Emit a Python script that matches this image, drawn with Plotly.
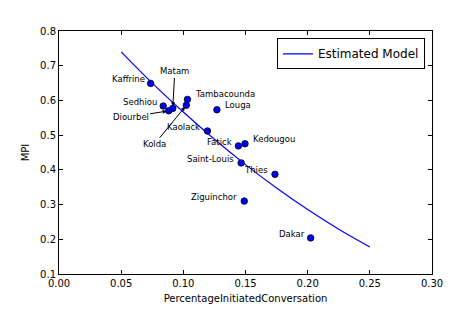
import plotly.graph_objects as go

# Data
regions = ["Kaffrine", "Sedhiou", "Diourbel", "Matam", "Tambacounda", "Kolda", "Louga",
           "Kaolack", "Fatick", "Kedougou", "Saint-Louis", "Thies", "Ziguinchor", "Dakar"]
pct_initiated = [0.0737, 0.0838, 0.0882, 0.0915, 0.1033, 0.1024, 0.1270,
                 0.1194, 0.1443, 0.1496, 0.1465, 0.1737, 0.1490, 0.2024]
mpi = [0.649, 0.584, 0.570, 0.577, 0.603, 0.586, 0.573,
       0.512, 0.469, 0.475, 0.420, 0.387, 0.310, 0.204]

model_x = [0.05, 0.075, 0.10, 0.125, 0.15, 0.175, 0.20, 0.225, 0.25]
model_y = [0.740, 0.650, 0.5665, 0.488, 0.415, 0.3475, 0.2855, 0.229, 0.178]

x_ticks = [0.00, 0.05, 0.10, 0.15, 0.20, 0.25, 0.30]
y_ticks = [0.1, 0.2, 0.3, 0.4, 0.5, 0.6, 0.7, 0.8]

# label placement: (xanchor, xshift, yshift) for plain labels; arrows for others
plain_labels = {
    "Kaffrine": ("right", -4, 4),
    "Sedhiou": ("right", -4, 4),
    "Tambacounda": ("left", 6, 5),
    "Louga": ("left", 6, 5),
    "Kaolack": ("right", -5, 4),
    "Fatick": ("right", -4, 4),
    "Kedougou": ("left", 6, 5),
    "Saint-Louis": ("right", -5, 4),
    "Thies": ("right", -5, 4),
    "Ziguinchor": ("right", -5, 4),
    "Dakar": ("right", -4, 4),
}
arrow_labels = {
    "Matam": (2, -37),
    "Diourbel": (-38, 6),
    "Kolda": (-32, 39),
}

fig = go.Figure()
fig.add_trace(go.Scatter(
    x=model_x, y=model_y, mode="lines", line=dict(color="#0000ff", width=1.2, shape="spline"),
    name="Estimated Model"))
fig.add_trace(go.Scatter(
    x=pct_initiated, y=mpi, mode="markers", showlegend=False,
    marker=dict(color="#0000ff", size=6.5, line=dict(color="black", width=0.8))))

font_lbl = dict(family="DejaVu Sans", size=8.5, color="black")
for name, xv, yv in zip(regions, pct_initiated, mpi):
    if name in plain_labels:
        xa, xs, ys = plain_labels[name]
        fig.add_annotation(x=xv, y=yv, text=name, showarrow=False, xanchor=xa,
                           yanchor="middle", xshift=xs, yshift=ys, font=font_lbl)
    else:
        ax, ay = arrow_labels[name]
        fig.add_annotation(x=xv, y=yv, text=name, showarrow=True, ax=ax, ay=ay,
                           arrowhead=2, arrowsize=0.8, arrowwidth=1, arrowcolor="black",
                           standoff=2, font=font_lbl)

axis_common = dict(showline=True, linecolor="black", linewidth=1, mirror="allticks",
                   ticks="inside", ticklen=4, tickcolor="black", showgrid=False,
                   zeroline=False, tickfont=dict(family="DejaVu Sans", size=10, color="black"))

fig.update_xaxes(range=[0, 0.30], tickvals=x_ticks, ticktext=[f"{v:.2f}" for v in x_ticks],
                 title=dict(text="PercentageInitiatedConversation",
                            font=dict(family="DejaVu Sans", size=10, color="black"), standoff=6),
                 **axis_common)
fig.update_yaxes(range=[0.1, 0.8], tickvals=y_ticks, ticktext=[f"{v:.1f}" for v in y_ticks],
                 title=dict(text="MPI", font=dict(family="DejaVu Sans", size=10, color="black"),
                            standoff=8),
                 **axis_common)

# page body has an 8px default margin, so shrink the figure by that offset
fig.update_layout(
    width=463, height=306,
    margin=dict(l=51, r=39, t=23, b=32),
    paper_bgcolor="white", plot_bgcolor="white",
    font=dict(family="DejaVu Sans", color="black"),
    legend=dict(x=0.981, y=0.970, xanchor="right", yanchor="top",
                bordercolor="black", borderwidth=1, bgcolor="white",
                font=dict(family="DejaVu Sans", size=12, color="black")),
)

fig.write_html("out.html")
